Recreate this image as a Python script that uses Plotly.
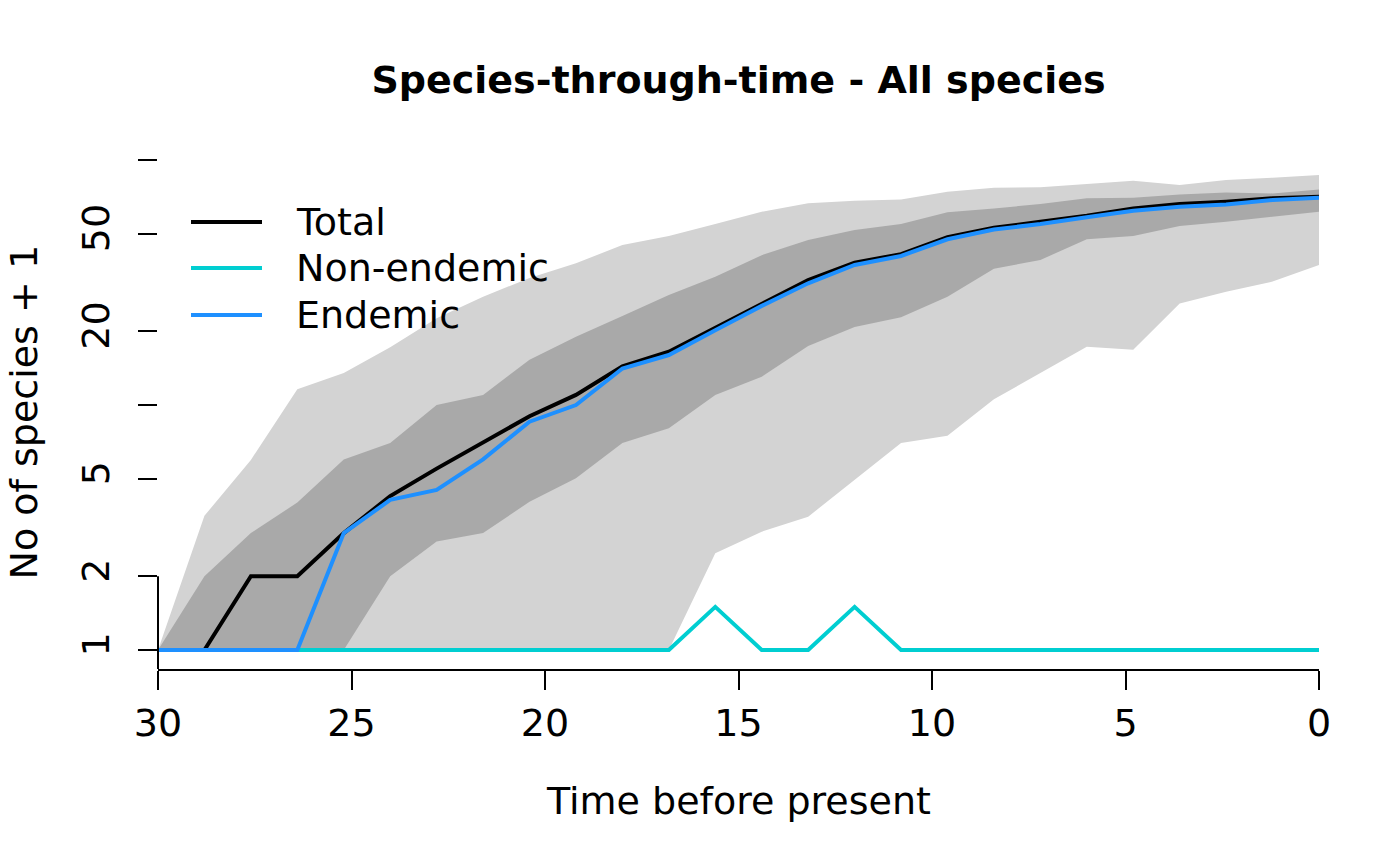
import math
import plotly.graph_objects as go

# ---- data ----
time = [30, 28.8, 27.6, 26.4, 25.2, 24, 22.8, 21.6, 20.4, 19.2, 18, 16.8, 15.6,
        14.4, 13.2, 12, 10.8, 9.6, 8.4, 7.2, 6, 4.8, 3.6, 2.4, 1.2, 0]

total = [1, 1, 2, 2, 3, 4.25, 5.5, 7.0, 9.0, 11.0, 14.4, 16.5, 20.6, 25.8, 32.4,
         38.1, 41.3, 48.4, 52.9, 56.0, 59.3, 63.5, 66.1, 67.6, 69.8, 70.8]
endemic = [1, 1, 1, 1, 3, 4.1, 4.5, 6.0, 8.55, 10.0, 14.1, 16.0, 20.2, 25.4, 31.4,
           37.3, 40.6, 47.5, 52.1, 54.8, 58.4, 62.1, 64.5, 65.9, 68.7, 70.2]
non_endemic = [1, 1, 1, 1, 1, 1, 1, 1, 1, 1, 1, 1, 1.5, 1, 1, 1.5, 1, 1, 1, 1,
               1, 1, 1, 1, 1, 1]

q975 = [1, 3.53, 5.97, 11.6, 13.5, 17.2, 22.6, 27.7, 33.0, 37.9, 45.0, 49.0, 54.8,
        61.5, 66.6, 68.2, 69.1, 74.2, 77.1, 77.4, 79.8, 82.3, 79.1, 82.9, 84.7, 86.9]
q75 = [1, 2.0, 3.0, 4.0, 6.0, 7.0, 10.0, 11.0, 15.3, 19.0, 23.1, 28.1, 33.4, 40.9,
       47.2, 51.8, 54.8, 61.2, 63.5, 66.1, 69.8, 70.2, 72.4, 73.8, 73.1, 75.9]
q25 = [1, 1, 1, 1, 1, 2.0, 2.77, 3.0, 4.03, 5.02, 7.0, 8.03, 11.0, 13.05, 17.4,
       20.8, 22.8, 27.7, 36.0, 39.1, 47.5, 49.0, 53.8, 56.0, 58.7, 61.5]
q025 = [1, 1, 1, 1, 1, 1, 1, 1, 1, 1, 1, 1, 2.48, 3.04, 3.5, 4.94, 7.0, 7.49,
        10.55, 13.5, 17.3, 16.8, 26.0, 29.0, 31.9, 37.3]

x_ticks = [30, 25, 20, 15, 10, 5, 0]
y_ticks = [1, 2, 5, 10, 20, 50, 100]
y_ticktext = ["1", "2", "5", "", "20", "50", ""]

series_names = ["Total", "Non-endemic", "Endemic"]
series_colors = ["black", "#00CED1", "#1E90FF"]

FONT = "DejaVu Sans"
OFF = 8                      # default page margin of the html body
W, H = 1400 - OFF, 865 - OFF
ML, MT = 158 - OFF, 156 - OFF
MR = W - (1319 - OFF)
MB = H - (669 - OFF)
LW = 4

fig = go.Figure()

# quantile bands
fig.add_trace(go.Scatter(x=time, y=q025, mode="lines", line=dict(width=0),
                         hoverinfo="skip", showlegend=False))
fig.add_trace(go.Scatter(x=time, y=q975, mode="lines", line=dict(width=0),
                         fill="tonexty", fillcolor="#D3D3D3",
                         hoverinfo="skip", showlegend=False))
fig.add_trace(go.Scatter(x=time, y=q25, mode="lines", line=dict(width=0),
                         hoverinfo="skip", showlegend=False))
fig.add_trace(go.Scatter(x=time, y=q75, mode="lines", line=dict(width=0),
                         fill="tonexty", fillcolor="#A9A9A9",
                         hoverinfo="skip", showlegend=False))

for name, vals, col in zip(series_names, [total, non_endemic, endemic], series_colors):
    fig.add_trace(go.Scatter(x=time, y=vals, mode="lines", name=name,
                             line=dict(color=col, width=LW), showlegend=False))

# y range as R does it (4% padding on log scale)
lo = math.log10(min(q025))
hi = math.log10(max(q975))
pad = 0.04 * (hi - lo)
yrange = [lo - pad, hi + pad]

font = dict(family=FONT, size=38, color="black")

fig.update_layout(
    width=W, height=H,
    margin=dict(l=ML, r=MR, t=MT, b=MB, pad=0),
    paper_bgcolor="white", plot_bgcolor="white",
    font=font,
    showlegend=False,
    title=dict(text="<b>Species-through-time - All species</b>",
               x=(ML + (W - ML - MR) / 2) / W, xanchor="center",
               y=1 - (80 - OFF) / H, yanchor="middle",
               font=dict(family=FONT, size=38, color="black")),
)

fig.update_xaxes(
    range=[max(time), min(time)],
    tickvals=x_ticks, ticktext=[str(v) for v in x_ticks],
    ticks="outside", ticklen=19, tickwidth=2, tickcolor="black",
    showline=True, linecolor="black", linewidth=2,
    showgrid=False, zeroline=False, tickfont=font,
)
fig.update_yaxes(
    type="log", range=yrange,
    tickvals=y_ticks, ticktext=y_ticktext, tickangle=-90,
    ticks="outside", ticklen=19, tickwidth=2, tickcolor="black",
    ticklabelstandoff=14,
    showline=False, showgrid=False, zeroline=False, tickfont=font,
)

# y axis line spanning first..last tick (R style)
fig.add_shape(type="line", xref="paper", yref="y", x0=0, x1=0,
              y0=math.log10(y_ticks[0]), y1=math.log10(y_ticks[-1]),
              line=dict(color="black", width=2), layer="above")

plot_h = H - MT - MB
plot_w = W - ML - MR

def px_x(px):
    return (px - OFF - ML) / plot_w

def px_y(py):
    return (H - MB - (py - OFF)) / plot_h

# axis titles
fig.add_annotation(text="Time before present", xref="paper", yref="paper",
                   x=0.5, y=px_y(801), xanchor="center", yanchor="middle",
                   showarrow=False, font=font)
fig.add_annotation(text="No of species + 1", xref="paper", yref="paper",
                   x=px_x(23), y=0.5, xanchor="center", yanchor="middle",
                   textangle=-90, showarrow=False, font=font)

# legend (no box)
leg_y = [222, 268, 315]
for name, col, py in zip(series_names, series_colors, leg_y):
    fig.add_shape(type="line", xref="paper", yref="paper",
                  x0=px_x(191), x1=px_x(262), y0=px_y(py), y1=px_y(py),
                  line=dict(color=col, width=LW))
    fig.add_annotation(text=name, xref="paper", yref="paper",
                       x=px_x(294), y=px_y(py), xanchor="left", yanchor="middle",
                       showarrow=False, font=font)

fig.write_html("out.html")
